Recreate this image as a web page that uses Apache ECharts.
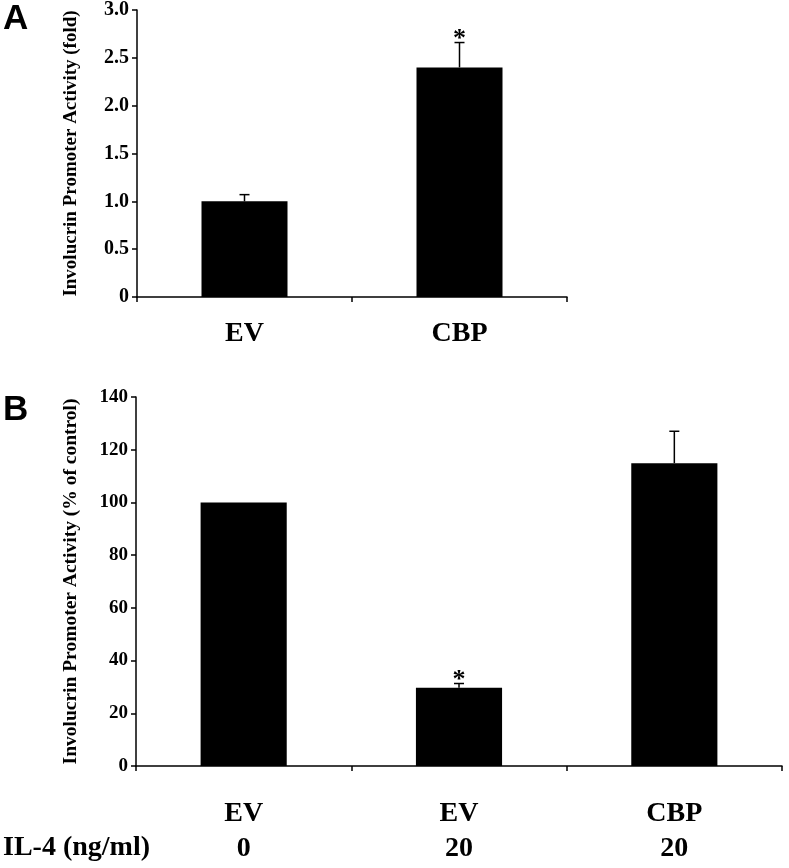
<!DOCTYPE html>
<html>
<head>
<meta charset="utf-8">
<script src="https://cdn.jsdelivr.net/npm/echarts@6/dist/echarts.min.js"></script>
<style>html,body{margin:0;padding:0;background:#fff}#c{width:789px;height:868px}</style>
</head>
<body>
<div id="c"></div>
<script>
// Panel A
var catsA = ['EV', 'CBP'];
var valsA = [1.0, 2.40];
var errA = [0.07, 0.26];
var sigA = ['', '*'];
// Panel B
var catsB = ['EV', 'EV', 'CBP'];
var il4B = ['0', '20', '20'];
var valsB = [100, 29.7, 114.9];
var errB = [0, 1.6, 12.1];
var sigB = ['', '*', ''];

var SERIF = '"Liberation Serif","Times New Roman",serif';
var chart = echarts.init(document.getElementById('c'));

function errData(vals, errs, sigs) {
  return vals.map(function (v, i) { return [i, v, v + errs[i]]; });
}
function renderErr(params, api) {
  var x = api.value(0);
  var base = api.coord([x, api.value(1)]);
  var top = api.coord([x, api.value(2)]);
  var children = [];
  if (api.value(2) > api.value(1)) {
    children.push({ type: 'line', shape: { x1: base[0], y1: base[1], x2: top[0], y2: top[1] }, style: { stroke: '#000', lineWidth: 1.5 } });
    children.push({ type: 'line', shape: { x1: top[0] - 5, y1: top[1], x2: top[0] + 5, y2: top[1] }, style: { stroke: '#000', lineWidth: 1.5 } });
  }
  return { type: 'group', children: children };
}
function renderStar(sigs) {
  return function (params, api) {
    var x = api.value(0);
    var top = api.coord([x, api.value(2)]);
    var s = sigs[params.dataIndex];
    if (!s) return { type: 'group', children: [] };
    return { type: 'text', style: { text: s, x: top[0], y: top[1] - 3, align: 'center', verticalAlign: 'middle', font: 'bold 26px ' + SERIF, fill: '#000' } };
  };
}

var axisLineStyle = { lineStyle: { color: '#000', width: 1.5 } };

chart.setOption({
  animation: false,
  grid: [
    { left: 137, top: 9, width: 430, height: 288 },
    { left: 136, top: 397, width: 646, height: 369 }
  ],
  xAxis: [
    { type: 'category', gridIndex: 0, data: catsA, axisLine: axisLineStyle,
      axisTick: { show: true, length: 5, lineStyle: { color: '#000', width: 1.5 } },
      axisLabel: { color: '#000', fontFamily: SERIF, fontWeight: 'bold', fontSize: 28, margin: 23 } },
    { type: 'category', gridIndex: 1, data: catsB, axisLine: axisLineStyle,
      axisTick: { show: true, length: 5, lineStyle: { color: '#000', width: 1.5 } },
      axisLabel: { color: '#000', margin: 30,
        formatter: function (v, i) { return '{a|' + v + '}\n{b|' + il4B[i] + '}'; },
        rich: {
          a: { fontFamily: SERIF, fontWeight: 'bold', fontSize: 28, lineHeight: 35, color: '#000' },
          b: { fontFamily: SERIF, fontWeight: 'bold', fontSize: 28, lineHeight: 35, color: '#000' }
        } } }
  ],
  yAxis: [
    { type: 'value', gridIndex: 0, min: 0, max: 3, interval: 0.5,
      name: 'Involucrin Promoter Activity (fold)', nameLocation: 'middle', nameGap: 56, nameRotate: 90,
      nameTextStyle: { color: '#000', fontFamily: SERIF, fontWeight: 'bold', fontSize: 19 },
      axisLine: { show: true, lineStyle: { color: '#000', width: 1.5 } },
      axisTick: { show: true, length: 5, lineStyle: { color: '#000', width: 1.5 } },
      splitLine: { show: false },
      axisLabel: { color: '#000', fontFamily: SERIF, fontWeight: 'bold', fontSize: 20, margin: 8,
        formatter: function (v) { return v === 0 ? '0' : v.toFixed(1); } } },
    { type: 'value', gridIndex: 1, min: 0, max: 140, interval: 20,
      name: 'Involucrin Promoter Activity (% of control)', nameLocation: 'middle', nameGap: 55, nameRotate: 90,
      nameTextStyle: { color: '#000', fontFamily: SERIF, fontWeight: 'bold', fontSize: 19.5 },
      axisLine: { show: true, lineStyle: { color: '#000', width: 1.5 } },
      axisTick: { show: true, length: 5, lineStyle: { color: '#000', width: 1.5 } },
      splitLine: { show: false },
      axisLabel: { color: '#000', fontFamily: SERIF, fontWeight: 'bold', fontSize: 19, margin: 8 } }
  ],
  series: [
    { type: 'bar', xAxisIndex: 0, yAxisIndex: 0, data: valsA, barWidth: '40%', itemStyle: { color: '#000' } },
    { type: 'custom', xAxisIndex: 0, yAxisIndex: 0, data: errData(valsA, errA, sigA), renderItem: renderErr, z: 5 },
    { type: 'custom', xAxisIndex: 0, yAxisIndex: 0, data: errData(valsA, errA, sigA), renderItem: renderStar(sigA), z: 6 },
    { type: 'bar', xAxisIndex: 1, yAxisIndex: 1, data: valsB, barWidth: '40%', itemStyle: { color: '#000' } },
    { type: 'custom', xAxisIndex: 1, yAxisIndex: 1, data: errData(valsB, errB, sigB), renderItem: renderErr, z: 5 },
    { type: 'custom', xAxisIndex: 1, yAxisIndex: 1, data: errData(valsB, errB, sigB), renderItem: renderStar(sigB), z: 6 }
  ],
  graphic: [
    { type: 'text', left: 3, top: 2, style: { text: 'A', font: 'bold 35px "Liberation Sans",Arial,sans-serif', fill: '#000' } },
    { type: 'text', left: 3, top: 393, style: { text: 'B', font: 'bold 35px "Liberation Sans",Arial,sans-serif', fill: '#000' } },
    { type: 'text', left: 3, top: 834, style: { text: 'IL-4 (ng/ml)', font: 'bold 28px ' + SERIF, fill: '#000' } }
  ]
});
</script>
</body>
</html>
